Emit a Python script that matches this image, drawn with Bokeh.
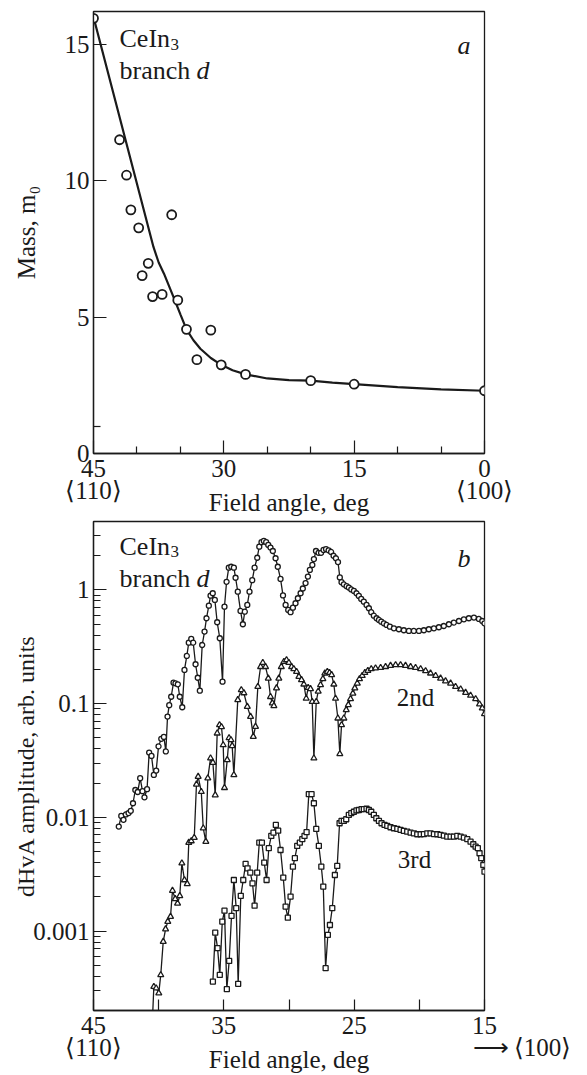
import math
from bokeh.plotting import figure
from bokeh.models import Range1d, FixedTicker, Label, LinearAxis
from bokeh.layouts import column
from bokeh.embed import file_html
from bokeh.resources import INLINE

FONT = "Liberation Serif"
INK = "#1a1a1a"

# ---------------- data: panel a (effective mass vs field angle) ----------------
mass_angle = [45.0, 42.0, 41.2, 40.7, 39.8, 39.4, 38.7, 38.2, 37.1, 36.0,
              35.3, 34.3, 33.1, 31.5, 30.3, 27.5, 20.0, 15.0, 0.0]
mass_value = [15.95, 11.5, 10.2, 8.93, 8.27, 6.52, 6.97, 5.75, 5.83, 8.75,
              5.62, 4.55, 3.44, 4.52, 3.25, 2.9, 2.67, 2.54, 2.3]
fit_angle = [45.0, 38.1, 37.5, 36.9, 35.8, 35.0, 34.3, 33.5, 32.7, 31.5, 30.3,
             29.0, 27.5, 25.0, 22.5, 20.0, 17.5, 15.0, 10.0, 5.0, 0.0]
fit_value = [16.0, 7.57, 7.0, 6.6, 5.74, 5.1, 4.55, 4.15, 3.84, 3.5, 3.25,
             3.05, 2.9, 2.75, 2.69, 2.67, 2.6, 2.54, 2.43, 2.35, 2.3]

# ---------------- data: panel b (dHvA amplitude) ----------------
first_angle = [43.06, 42.87, 42.70, 42.52, 42.31, 42.14, 41.97, 41.79, 41.61, 41.42,
               41.24, 41.09, 40.89, 40.73, 40.55, 40.37, 40.19, 40.01, 39.80, 39.60,
               39.45, 39.32, 39.19, 39.04, 38.86, 38.71, 38.53, 38.38, 38.19, 38.02,
               37.84, 37.69, 37.50, 37.35, 37.17, 37.00, 36.84, 36.66, 36.48, 36.33,
               36.15, 36.02, 35.85, 35.69, 35.51, 35.31, 35.10, 34.95, 34.79, 34.62,
               34.43, 34.23, 34.10, 33.93, 33.72, 33.54, 33.39, 33.20, 33.03, 32.82,
               32.64, 32.44, 32.28, 32.11, 31.93, 31.75, 31.59, 31.42, 31.24, 31.03,
               30.86, 30.65, 30.46, 30.26, 30.06, 29.88, 29.70, 29.50, 29.32, 29.11,
               28.94, 28.73, 28.55, 28.40, 28.21, 28.09, 27.93, 27.73, 27.54, 27.35,
               27.16, 26.96, 26.77, 26.58, 26.40, 26.24, 26.10, 25.97, 25.79, 25.58,
               25.41, 25.22, 25.02, 24.82, 24.64, 24.46, 24.26, 24.05, 23.87, 23.69,
               23.49, 23.28, 23.10, 22.92, 22.72, 22.51, 22.26, 21.95, 21.57, 21.19,
               20.80, 20.42, 20.03, 19.65, 19.27, 18.88, 18.50, 18.12, 17.73, 17.35,
               16.96, 16.58, 16.20, 15.81, 15.43, 15.17, 15.00]
first_amp = [0.0083, 0.0103, 0.0095, 0.0106, 0.0109, 0.0114, 0.0133, 0.0174, 0.0167, 0.0221,
             0.0170, 0.0150, 0.0177, 0.0371, 0.0347, 0.0236, 0.0258, 0.0421, 0.049, 0.051,
             0.038, 0.077, 0.097, 0.115, 0.153, 0.151, 0.148, 0.115, 0.093, 0.198,
             0.263, 0.344, 0.371, 0.344, 0.222, 0.169, 0.130, 0.328, 0.430, 0.564,
             0.728, 0.891, 0.935, 0.817, 0.520, 0.376, 0.156, 0.713, 1.18, 1.57,
             1.60, 1.57, 1.28, 0.966, 0.654, 0.499, 0.644, 0.738, 0.966, 1.22,
             1.57, 1.92, 2.40, 2.63, 2.70, 2.63, 2.49, 2.36, 2.20, 1.90,
             1.60, 1.25, 0.895, 0.738, 0.667, 0.637, 0.699, 0.764, 0.845, 0.935,
             1.03, 1.15, 1.31, 1.50, 1.66, 1.87, 2.20, 2.12, 2.12, 2.25,
             2.29, 2.23, 2.16, 2.00, 1.90, 1.76, 1.29, 1.17, 1.12, 1.08,
             1.05, 1.01, 0.98, 0.935, 0.886, 0.834, 0.789, 0.738, 0.690, 0.637,
             0.594, 0.564, 0.545, 0.526, 0.509, 0.492, 0.475, 0.460, 0.451, 0.442,
             0.436, 0.436, 0.436, 0.442, 0.451, 0.460, 0.470, 0.482, 0.499, 0.516,
             0.533, 0.552, 0.564, 0.571, 0.556, 0.533, 0.509]

second_angle = [40.51, 40.37, 40.19, 39.99, 39.84, 39.65, 39.47, 39.30, 39.09, 38.94,
                38.73, 38.55, 38.38, 38.22, 38.02, 37.81, 37.69, 37.50, 37.27, 37.10,
                36.97, 36.73, 36.58, 36.38, 36.23, 36.02, 35.84, 35.66, 35.51, 35.33,
                35.18, 35.05, 34.95, 34.74, 34.60, 34.45, 34.36, 34.23, 33.93, 33.66,
                33.46, 33.20, 32.95, 32.74, 32.57, 32.39, 32.18, 32.01, 31.80, 31.59,
                31.42, 31.28, 31.16, 30.96, 30.78, 30.59, 30.39, 30.19, 30.01, 29.80,
                29.63, 29.42, 29.24, 29.04, 28.86, 28.68, 28.53, 28.35, 28.22, 28.09,
                27.91, 27.76, 27.58, 27.40, 27.25, 27.06, 26.89, 26.73, 26.56, 26.43,
                26.25, 26.10, 25.97, 25.79, 25.61, 25.45, 25.28, 25.10, 24.95, 24.76,
                24.59, 24.38, 24.18, 23.95, 23.69, 23.36, 22.97, 22.59, 22.21, 21.82,
                21.44, 21.06, 20.67, 20.29, 19.90, 19.52, 19.14, 18.75, 18.37, 17.99,
                17.60, 17.22, 16.83, 16.45, 16.07, 15.68, 15.38, 15.17, 15.00]
second_amp = [0.000135, 0.000324, 0.000314, 0.000284, 0.000411, 0.000807, 0.00104, 0.00121, 0.00134, 0.00227,
              0.00192, 0.00175, 0.00204, 0.00395, 0.00281, 0.00260, 0.00599, 0.00619, 0.00662, 0.0195,
              0.0228, 0.0168, 0.00802, 0.00611, 0.0221, 0.0331, 0.0303, 0.0157, 0.0549, 0.0650,
              0.0624, 0.0433, 0.0182, 0.0320, 0.0499, 0.0479, 0.0425, 0.0236, 0.108, 0.132,
              0.124, 0.0942, 0.0769, 0.0513, 0.0628, 0.141, 0.211, 0.229, 0.211, 0.167,
              0.115, 0.101, 0.0955, 0.137, 0.167, 0.211, 0.234, 0.242, 0.229, 0.211,
              0.202, 0.191, 0.173, 0.162, 0.148, 0.111, 0.138, 0.135, 0.104, 0.0331,
              0.104, 0.128, 0.146, 0.165, 0.185, 0.191, 0.187, 0.179, 0.148, 0.111,
              0.0744, 0.0361, 0.0650, 0.0744, 0.0881, 0.0975, 0.110, 0.123, 0.137, 0.151,
              0.165, 0.176, 0.187, 0.195, 0.202, 0.205, 0.207, 0.211, 0.216, 0.219,
              0.219, 0.216, 0.211, 0.207, 0.202, 0.194, 0.185, 0.176, 0.167, 0.158,
              0.151, 0.141, 0.134, 0.125, 0.118, 0.110, 0.0989, 0.0912, 0.0812]

third_angle = [35.84, 35.66, 35.48, 35.31, 35.12, 34.95, 34.77, 34.59, 34.41, 34.23,
               34.05, 33.90, 33.70, 33.51, 33.33, 33.18, 32.97, 32.80, 32.64, 32.44,
               32.28, 32.08, 31.90, 31.72, 31.55, 31.36, 31.19, 31.01, 30.83, 30.65,
               30.44, 30.26, 30.09, 29.88, 29.70, 29.55, 29.37, 29.17, 28.98, 28.81,
               28.65, 28.48, 28.27, 28.09, 27.91, 27.71, 27.52, 27.37, 27.19, 27.02,
               26.86, 26.68, 26.48, 26.30, 26.12, 25.97, 25.79, 25.61, 25.41, 25.22,
               25.02, 24.82, 24.64, 24.43, 24.26, 24.05, 23.87, 23.69, 23.49, 23.30,
               23.10, 22.90, 22.67, 22.46, 22.21, 21.95, 21.69, 21.44, 21.19, 20.93,
               20.67, 20.42, 20.16, 19.90, 19.65, 19.39, 19.14, 18.88, 18.62, 18.37,
               18.12, 17.86, 17.60, 17.35, 17.09, 16.83, 16.58, 16.32, 16.07, 15.86,
               15.68, 15.51, 15.38, 15.25, 15.09, 15.00]
third_amp = [0.000359, 0.000968, 0.000706, 0.000411, 0.00121, 0.00151, 0.000308, 0.000546, 0.00136, 0.00281,
             0.00159, 0.000343, 0.00204, 0.00281, 0.00389, 0.00356, 0.00326, 0.00263, 0.00167, 0.00326,
             0.00599, 0.00599, 0.00400, 0.00281, 0.00535, 0.00686, 0.00733, 0.00857, 0.00764, 0.00516,
             0.00295, 0.00164, 0.00131, 0.00201, 0.00368, 0.00437, 0.00560, 0.00599, 0.00642, 0.00686,
             0.00740, 0.0160, 0.0160, 0.0133, 0.00791, 0.00560, 0.00368, 0.00246, 0.000471, 0.000924,
             0.00113, 0.00159, 0.00311, 0.00374, 0.00887, 0.00929, 0.00929, 0.00962, 0.0105, 0.0109,
             0.0112, 0.0115, 0.0116, 0.0118, 0.0118, 0.0119, 0.0116, 0.0112, 0.0105, 0.00982,
             0.00929, 0.00887, 0.00857, 0.00840, 0.00818, 0.00802, 0.00791, 0.00775, 0.00759, 0.00748,
             0.00733, 0.00724, 0.00710, 0.00710, 0.00713, 0.00724, 0.00724, 0.00713, 0.00710, 0.00700,
             0.00690, 0.00676, 0.00676, 0.00676, 0.00686, 0.00676, 0.00663, 0.00642, 0.00611, 0.00580,
             0.00552, 0.00535, 0.00483, 0.00437, 0.00381, 0.00333]

top_x_ticks = [45, 30, 15, 0]
top_x_minor = [40, 35, 25, 20, 10, 5]
top_y_ticks = [0, 5, 10, 15]
top_y_minor = [1]
top_dir_ticks = [45, 0]
top_dir_labels = {45: "\u27e8110\u27e9", 0: "\u27e8100\u27e9"}
bot_x_ticks = [45, 40, 35, 30, 25, 20, 15]
bot_x_labels = {45: "45", 40: "", 35: "35", 30: "", 25: "25", 20: "", 15: "15"}
bot_dir_ticks = [45, 15]
bot_dir_labels = {45: "\u27e8110\u27e9",
                  15: "\u2003\u2003\u2003\u27f6\u2009\u27e8100\u27e9"}
bot_y_ticks = [0.001, 0.01, 0.1, 1.0]
bot_y_labels = {0.001: "0.001", 0.01: "0.01", 0.1: "0.1", 1.0: "1"}
bot_y_minor = [m * 10.0 ** e for e in (-4, -3, -2, -1, 0) for m in range(2, 10)]

# ---------------- geometry ----------------
W = 587
FL, FR = 93, 484          # frame left/right (px)
T_TOP, T_BOT = 11, 453    # panel a frame top/bottom
B_TOP, B_BOT = 521, 1011  # panel b frame top/bottom (page px)
H1 = 519
H2 = 1075 - H1

A_X = (45.0, 0.0)
A_Y = (0.0, 16.2)
B_X = (45.0, 15.0)
B_Y = (2e-4, 4.0)


def ax_(px):
    return A_X[0] + (px - FL) * (A_X[1] - A_X[0]) / (FR - FL)


def ay_(py):
    return A_Y[0] + (T_BOT - py) * (A_Y[1] - A_Y[0]) / (T_BOT - T_TOP)


def bx_(px):
    return B_X[0] + (px - FL) * (B_X[1] - B_X[0]) / (FR - FL)


def by_(py):
    lo, hi = math.log10(B_Y[0]), math.log10(B_Y[1])
    return 10 ** (hi - (py - B_TOP) * (hi - lo) / (B_BOT - B_TOP))


def style_axis(ax, standoff):
    ax.axis_line_color = INK
    ax.axis_line_width = 1.3
    ax.major_tick_line_color = INK
    ax.minor_tick_line_color = INK
    ax.major_tick_line_width = 1.2
    ax.minor_tick_line_width = 1.2
    ax.major_tick_out = 0
    ax.minor_tick_out = 0
    ax.major_label_text_font = FONT
    ax.major_label_text_font_size = "25px"
    ax.major_label_text_color = INK
    ax.major_label_standoff = standoff
    ax.axis_label_text_font = FONT
    ax.axis_label_text_font_size = "25px"
    ax.axis_label_text_font_style = "normal"
    ax.axis_label_text_color = INK


def style(p):
    p.xgrid.visible = False
    p.ygrid.visible = False
    p.outline_line_color = INK
    p.outline_line_width = 1.3
    p.outline_line_alpha = 1.0
    p.background_fill_color = "white"
    p.border_fill_color = "white"
    style_axis(p.xaxis[0], 6)
    style_axis(p.yaxis[0], 4)


def dir_axis(p, ticks, labels):
    a = LinearAxis(ticker=FixedTicker(ticks=ticks, minor_ticks=[]),
                   major_label_overrides=labels)
    style_axis(a, -3)
    a.axis_line_color = None
    a.major_tick_line_color = None
    a.minor_tick_line_color = None
    a.axis_label = "Field angle, deg"
    a.axis_label_standoff = -18
    p.add_layout(a, "below")
    return a


def lab(p, x, y, text, size=25, fstyle="normal", align="center", angle=0.0):
    p.add_layout(Label(x=x, y=y, text=text, text_font=FONT,
                       text_font_size=f"{size}px", text_font_style=fstyle,
                       text_align=align, text_baseline="alphabetic",
                       angle=angle, text_color=INK))


# ---------------- panel a ----------------
p1 = figure(width=W, height=H1, x_range=Range1d(*A_X), y_range=Range1d(*A_Y),
            output_backend="svg", toolbar_location=None,
            min_border_left=FL, min_border_right=W - FR,
            min_border_top=T_TOP, min_border_bottom=H1 - T_BOT)
style(p1)
p1.xaxis[0].ticker = FixedTicker(ticks=top_x_ticks, minor_ticks=top_x_minor)
p1.yaxis[0].ticker = FixedTicker(ticks=top_y_ticks, minor_ticks=top_y_minor)
p1.xaxis[0].major_tick_in = 13
p1.xaxis[0].minor_tick_in = 7
p1.yaxis[0].major_tick_in = 13
p1.yaxis[0].minor_tick_in = 7
p1.yaxis[0].axis_label = "Mass, m\u2080"
p1.yaxis[0].axis_label_standoff = 22
dir_axis(p1, top_dir_ticks, top_dir_labels)

p1.line(fit_angle, fit_value, line_color=INK, line_width=2.2)
p1.scatter(mass_angle, mass_value, marker="circle", size=9, line_color=INK,
           line_width=1.8, fill_color="white")

lab(p1, ax_(119), ay_(38), "CeIn", 26, align="left")
lab(p1, ax_(170), ay_(44), "3", 17, align="left")
lab(p1, ax_(119), ay_(70), "branch ", 26, align="left")
lab(p1, ax_(196), ay_(70), "d", 26, fstyle="italic", align="left")
lab(p1, ax_(457), ay_(45), "a", 26, fstyle="italic", align="left")

# ---------------- panel b ----------------
p2 = figure(width=W, height=H2, x_range=Range1d(*B_X), y_range=Range1d(*B_Y),
            y_axis_type="log", output_backend="svg", toolbar_location=None,
            min_border_left=FL, min_border_right=W - FR,
            min_border_top=B_TOP - H1, min_border_bottom=1075 - B_BOT)
style(p2)
p2.xaxis[0].ticker = FixedTicker(ticks=bot_x_ticks)
p2.xaxis[0].major_label_overrides = bot_x_labels
p2.yaxis[0].ticker = FixedTicker(ticks=bot_y_ticks, minor_ticks=bot_y_minor)
p2.yaxis[0].major_label_overrides = bot_y_labels
p2.xaxis[0].major_tick_in = 11
p2.yaxis[0].major_tick_in = 13
p2.yaxis[0].minor_tick_in = 7
p2.yaxis[0].axis_label = "dHvA amplitude, arb. units"
p2.yaxis[0].axis_label_text_font_size = "24px"
p2.yaxis[0].axis_label_standoff = -9
dir_axis(p2, bot_dir_ticks, bot_dir_labels)

for xs, ys, mk, sz in ((first_angle, first_amp, "circle", 5),
                       (second_angle, second_amp, "triangle", 6),
                       (third_angle, third_amp, "square", 5)):
    p2.line(xs, ys, line_color=INK, line_width=1.3)
    p2.scatter(xs, ys, marker=mk, size=sz, line_color=INK, line_width=1.3,
               fill_color="white")

lab(p2, bx_(119), by_(546), "CeIn", 26, align="left")
lab(p2, bx_(170), by_(551), "3", 17, align="left")
lab(p2, bx_(119), by_(578), "branch ", 26, align="left")
lab(p2, bx_(196), by_(578), "d", 26, fstyle="italic", align="left")
lab(p2, bx_(457), by_(558), "b", 26, fstyle="italic", align="left")
lab(p2, bx_(415), by_(697), "2nd", 25)
lab(p2, bx_(414), by_(860), "3rd", 25)

layout = column(p1, p2, spacing=0)
open("out.html", "w").write(file_html(layout, INLINE))
